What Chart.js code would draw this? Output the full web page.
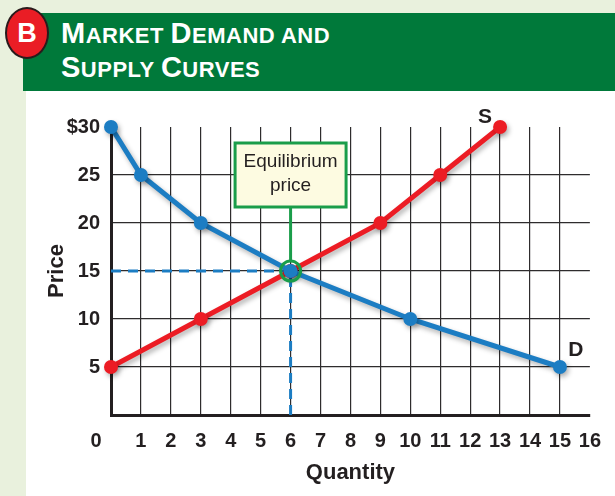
<!DOCTYPE html>
<html>
<head>
<meta charset="utf-8">
<script src="https://cdn.jsdelivr.net/npm/chart.js@4.4.1/dist/chart.umd.min.js"></script>
<style>
  html, body { margin: 0; padding: 0; }
  body {
    width: 615px; height: 496px; position: relative; overflow: hidden;
    background: #e9f1dd;
    font-family: 'Liberation Sans', Arial, sans-serif;
  }
  #panel { position: absolute; left: 26px; top: 91px; width: 589px; height: 405px; background: #fff; }
  #hdr { position: absolute; left: 23px; top: 13px; width: 592px; height: 78px; background: #00793a; }
  .ttl {
    position: absolute; left: 61px; color: #fff; font-weight: bold;
    font-size: 22px; line-height: 34px; letter-spacing: 0.5px; white-space: nowrap;
  }
  .ttl span { font-size: 29px; }
  #badge {
    position: absolute; left: 5px; top: 7px; width: 40px; height: 48px;
    border: 2px solid #2a1b1c; border-radius: 50%; background: #ea1d25;
    color: #fff; font-weight: bold; font-size: 27px; line-height: 48px; text-align: center;
  }
  #wrap { position: absolute; left: 0; top: 0; width: 615px; height: 496px; }
</style>
</head>
<body>
<div id="panel"></div>
<div id="hdr"></div>
<div class="ttl" style="top:16px"><span>M</span>ARKET <span>D</span>EMAND AND</div>
<div class="ttl" style="top:50px"><span>S</span>UPPLY <span>C</span>URVES</div>
<div id="badge">B</div>
<div id="wrap"><canvas id="chart"></canvas></div>
<script>
const FONT = "'Liberation Sans', Arial, sans-serif";
const INK = "#231f20";
const BLUE = "#1c7dc3";
const RED = "#ec1c24";
const GREEN = "#1a9d4a";

// demand / supply schedules
const demandQty = [0, 1, 3, 6, 10, 15];
const demandPrice = [30, 25, 20, 15, 10, 5];
const supplyQty = [0, 3, 6, 9, 11, 13];
const supplyPrice = [5, 10, 15, 20, 25, 30];

const eqQty = 6;
const eqPrice = 15;

const qtyMin = 0, qtyMax = 16, qtyStep = 1;
const priceMin = 0, priceMax = 30, priceStep = 5;
const priceTopLabel = "$30";
const boxLines = ["Equilibrium", "price"];

const pts = (xs, ys) => xs.map((x, i) => ({ x, y: ys[i] }));

const shadowPlugin = {
    id: "lineShadow",
    beforeDatasetDraw(chart, args) {
        if (!chart.data.datasets[args.index].shadow) return;
        const ctx = chart.ctx;
        ctx.save();
        ctx.shadowColor = "rgba(0,0,0,0.3)";
        ctx.shadowBlur = 5;
        ctx.shadowOffsetX = 2;
        ctx.shadowOffsetY = 3;
    },
    afterDatasetDraw(chart, args) {
        if (chart.data.datasets[args.index].shadow) chart.ctx.restore();
    },
};

const eqPlugin = {
    id: "eqNote",
    beforeDatasetsDraw(chart) {
        const { ctx, scales: { x, y } } = chart;
        const px = x.getPixelForValue(eqQty), py = y.getPixelForValue(eqPrice);
        ctx.save();
        ctx.strokeStyle = GREEN;
        ctx.lineWidth = 3;
        ctx.beginPath();
        ctx.moveTo(px, py - 64);
        ctx.lineTo(px, py - 10);
        ctx.stroke();
        ctx.restore();
    },
    afterDatasetsDraw(chart) {
        const { ctx, scales: { x, y } } = chart;
        const px = x.getPixelForValue(eqQty), py = y.getPixelForValue(eqPrice);
        const w = 111, h = 64;
        const left = px - w / 2, top = py - 64 - h;
        ctx.save();
        ctx.fillStyle = "#fdfbe1";
        ctx.fillRect(left, top, w, h);
        ctx.strokeStyle = GREEN;
        ctx.lineWidth = 3;
        ctx.strokeRect(left, top, w, h);
        ctx.fillStyle = INK;
        ctx.font = "19px " + FONT;
        ctx.textAlign = "center";
        ctx.textBaseline = "middle";
        ctx.fillText(boxLines[0], px, top + 19);
        ctx.fillText(boxLines[1], px, top + 43);

        // curve labels next to the last point of each curve
        ctx.font = "bold 21px " + FONT;
        const sx = x.getPixelForValue(supplyQty[supplyQty.length - 1]);
        const sy = y.getPixelForValue(supplyPrice[supplyPrice.length - 1]);
        ctx.fillText("S", sx - 15, sy - 10);
        const dx = x.getPixelForValue(demandQty[demandQty.length - 1]);
        const dy = y.getPixelForValue(demandPrice[demandPrice.length - 1]);
        ctx.fillText("D", dx + 16, dy - 17);
        ctx.restore();
    },
};

new Chart(document.getElementById("chart"), {
    type: "line",
    data: {
        datasets: [
            {
                data: [{ x: eqQty, y: eqPrice }],
                showLine: false,
                pointRadius: 10, pointBorderWidth: 3,
                pointBorderColor: GREEN, pointBackgroundColor: "rgba(0,0,0,0)",
                clip: false,
            },
            {
                label: "Demand",
                data: pts(demandQty, demandPrice),
                borderColor: BLUE, borderWidth: 5,
                pointRadius: 7, pointBackgroundColor: BLUE, pointBorderWidth: 0,
                clip: false, shadow: true,
            },
            {
                label: "Supply",
                data: pts(supplyQty, supplyPrice),
                borderColor: RED, borderWidth: 5,
                pointRadius: 7, pointBackgroundColor: RED, pointBorderWidth: 0,
                clip: false, shadow: true,
            },
            {
                data: [{ x: qtyMin, y: eqPrice }, { x: eqQty, y: eqPrice }],
                borderColor: BLUE, borderWidth: 3, borderDash: [10, 7],
                pointRadius: 0, clip: false,
            },
            {
                data: [{ x: eqQty, y: priceMin }, { x: eqQty, y: eqPrice }],
                borderColor: BLUE, borderWidth: 3, borderDash: [10, 6],
                pointRadius: 0, clip: false,
            },
        ],
    },
    options: {
        responsive: true,
        maintainAspectRatio: false,
        animation: false,
        events: [],
        layout: { padding: { top: 127, right: 24, left: 0, bottom: 0 } },
        plugins: { legend: { display: false }, tooltip: { enabled: false } },
        scales: {
            x: {
                type: "linear",
                min: qtyMin, max: qtyMax,
                afterFit: (s) => { s.height = 81; },
                border: { color: INK, width: 3 },
                grid: {
                    drawTicks: false,
                    lineWidth: 1.2,
                    color: (c) => (c.tick.value === qtyMin || c.tick.value === qtyMax ? "rgba(0,0,0,0)" : "#2e2c2d"),
                },
                ticks: {
                    stepSize: qtyStep,
                    autoSkip: false,
                    maxRotation: 0,
                    padding: 14,
                    color: INK,
                    font: { family: FONT, size: 20, weight: "bold" },
                    callback: (v) => (v === qtyMin ? "0\u2002\u2002\u2002" : v),
                },
                title: {
                    display: true, text: "Quantity", color: INK,
                    font: { family: FONT, size: 22, weight: "bold" },
                    padding: { top: 0, bottom: 10 },
                },
            },
            y: {
                type: "linear",
                min: priceMin, max: priceMax,
                afterFit: (s) => { s.width = 111; },
                border: { color: INK, width: 3 },
                grid: {
                    drawTicks: false,
                    lineWidth: 1.2,
                    color: (c) => (c.tick.value === priceMin || c.tick.value === priceMax ? "rgba(0,0,0,0)" : "#2e2c2d"),
                },
                ticks: {
                    stepSize: priceStep,
                    padding: 11,
                    color: INK,
                    font: { family: FONT, size: 20, weight: "bold" },
                    callback: (v) => (v === priceMax ? priceTopLabel : v === priceMin ? "" : v),
                },
                title: {
                    display: true, text: "Price", color: INK,
                    font: { family: FONT, size: 22, weight: "bold" },
                    padding: { top: 44, bottom: 0 },
                },
            },
        },
    },
    plugins: [shadowPlugin, eqPlugin],
});
</script>
</body>
</html>
